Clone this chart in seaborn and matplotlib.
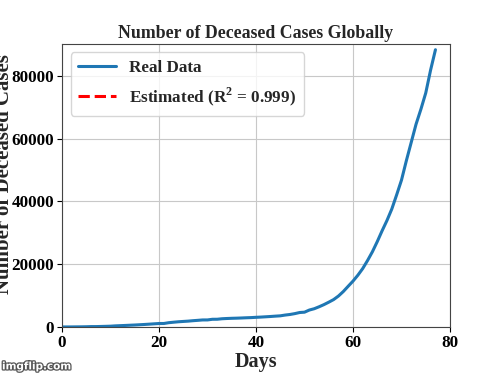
import matplotlib
matplotlib.use("Agg")
import matplotlib.pyplot as plt
import matplotlib.patheffects as pe
import seaborn as sns
import pandas as pd

# global deceased counts, day 0 = first day of the series
days = list(range(78))
deceased = [17, 18, 26, 42, 56, 82, 131, 133, 171, 213,
            259, 362, 426, 492, 564, 634, 719, 806, 906, 1013,
            1113, 1118, 1371, 1523, 1666, 1770, 1868, 2007, 2122, 2247,
            2251, 2458, 2469, 2629, 2708, 2770, 2814, 2872, 2941, 2996,
            3085, 3160, 3254, 3348, 3460, 3558, 3802, 3988, 4262, 4615,
            4720, 5404, 5819, 6440, 7126, 7905, 8733, 9867, 11299, 12973,
            14623, 16497, 18615, 21181, 23970, 27198, 30652, 33925, 37582, 42107,
            46809, 52983, 58787, 64606, 69374, 74565, 81865, 88338]
r2_label = "Estimated (R$^2$ = 0.999)"

df = pd.DataFrame({"Days": days, "Deceased": deceased})

sns.set_style("ticks")
plt.rcParams["font.family"] = ["Liberation Serif", "DejaVu Serif"]
plt.rcParams["font.weight"] = "bold"
plt.rcParams["mathtext.fontset"] = "custom"
plt.rcParams["mathtext.rm"] = "Liberation Serif:bold"

fig = plt.figure(figsize=(5, 3.75), dpi=100)
ax = fig.add_axes([0.124, 0.128, 0.776, 0.755])

sns.lineplot(data=df, x="Days", y="Deceased", ax=ax, color="#1f77b4",
             linewidth=2.2, label="Real Data")
# estimate curve not drawn yet in this frame, legend entry only
ax.plot([], [], color="red", linestyle="--", linewidth=2.2, label=r2_label)

ax.set_xlim(0, 80)
ax.set_ylim(0, 90200)
ax.set_xticks([0, 20, 40, 60, 80])
ax.set_yticks([0, 20000, 40000, 60000, 80000])
ax.grid(True, color="#c8c8c8", linewidth=0.8)
for s in ax.spines.values():
    s.set_color("#444444")
ax.tick_params(labelsize=12.3, colors="black", length=3.5, pad=2)
for lab in ax.get_xticklabels() + ax.get_yticklabels():
    lab.set_fontweight("bold")

ax.set_title("Number of Deceased Cases Globally", fontsize=12.8, fontweight="bold", pad=4)
ax.set_xlabel("Days", fontsize=14.5, fontweight="bold", labelpad=1)
ax.set_ylabel("Number of Deceased Cases", fontsize=15, fontweight="bold")
ax.yaxis.set_label_coords(-0.124, 0.54)

leg = ax.legend(loc="upper left", prop={"weight": "bold", "size": 12.3},
                handlelength=2.2, borderpad=0.45, labelspacing=0.55, handletextpad=0.8)

fig.text(0.004, 0.015, "imgflip.com", fontsize=7.5, color="white", fontweight="bold",
         family="DejaVu Sans",
         path_effects=[pe.withStroke(linewidth=1.8, foreground="#555555")])

fig.savefig("out.png", dpi=100)
